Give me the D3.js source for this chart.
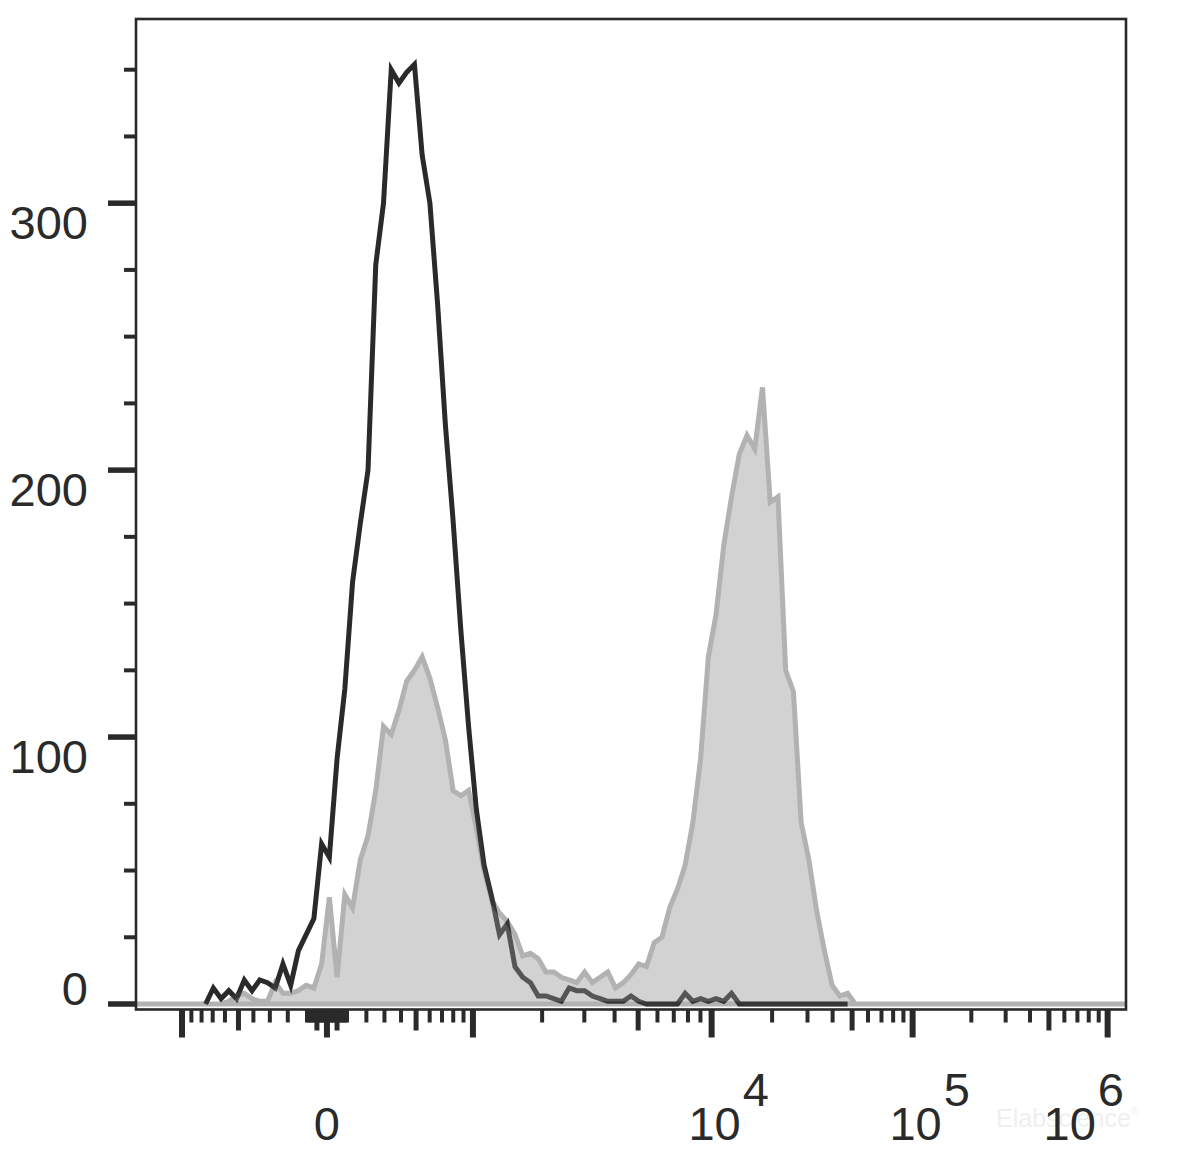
<!DOCTYPE html>
<html><head><meta charset="utf-8">
<script src="https://cdn.jsdelivr.net/npm/d3@7"></script>
<style>
body{margin:0;background:#fff}
svg{display:block}
text{font-family:"Liberation Sans",Arial,sans-serif}
</style>
</head><body>
<svg id="c" width="1180" height="1159"></svg>
<script>
// ---------------- data (histogram counts per display channel bin) ----------------
const binStart = 72;   // first bin (display channel)
const binStep = 8;     // channels per bin
const channelMax = 1024;

// black outline histogram (control)
const controlCounts = [
  0, 6, 2, 5, 2, 9, 5, 9, 8, 6,
  15, 7, 20, 26, 32, 60, 55, 92, 118, 158,
  180, 200, 277, 300, 350, 345, 349, 352, 318, 300,
  262, 217, 181, 140, 104, 73, 52, 40, 26, 30,
  14, 10, 8, 3, 3, 2, 1, 6, 5, 5,
  3, 2, 1, 1, 1, 3, 1, 0, 0, 0,
  0, 0, 4, 1, 2, 1, 2, 1, 4, 0,
  0, 0, 0, 0, 0, 0, 0, 0, 0, 0,
  0, 0, 0, 0
];

// grey filled histogram (stained sample)
const stainedCounts = [
  0, 0, 0, 1, 3, 4, 2, 1, 1, 8,
  4, 4, 5, 7, 6, 15, 40, 10, 41, 36,
  54, 63, 80, 104, 101, 110, 121, 125, 130, 122,
  111, 99, 80, 78, 80, 66, 50, 39, 34, 31,
  26, 18, 19, 17, 12, 12, 10, 9, 8, 12,
  8, 10, 12, 6, 8, 11, 15, 14, 23, 25,
  36, 43, 52, 68, 92, 130, 146, 172, 190, 206,
  213, 208, 231, 188, 190, 125, 117, 68, 54, 35,
  20, 7, 3, 4, 0
];

// axes
const yMax = 369;
const yTickStep = 25;
const yLabelValues = [0, 100, 200, 300];

// biexponential display: fluorescence value -> display channel anchors
const xAnchorValues = [-1000, 0, 1000, 1e4, 1e5, 1e6];
const xAnchorChannels = [47.6, 197.5, 348.5, 595.4, 803.3, 1005];
const xMajorValues = [-1000, 0, 1000, 1e4, 1e5, 1e6];
const xMediumValues = [-500, -50, 50, 500, 5000, 5e4, 5e5];
const xLabels = [
  {value: 0, base: "0", exp: ""},
  {value: 1e4, base: "10", exp: "4"},
  {value: 1e5, base: "10", exp: "5"},
  {value: 1e6, base: "10", exp: "6"}
];

// ---------------- layout ----------------
const plot = {left: 136, right: 1126, top: 19, zeroY: 1004, bottom: 1009.5};
const ink = "#2a2a2a";

const svg = d3.select("#c");

const x = d3.scaleLinear().domain([0, channelMax]).range([plot.left, plot.right]);
const y = d3.scaleLinear().domain([0, yMax]).range([plot.zeroY, plot.top]);

const asinhT = v => Math.asinh(v / 500);
const chanOf = d3.scaleLinear().domain(xAnchorValues.map(asinhT)).range(xAnchorChannels);
const xv = v => x(chanOf(asinhT(v)));

// ---------------- histograms ----------------
const controlPts = controlCounts.map((v, i) => ({c: binStart + i * binStep, v}));
// empty channels outside the listed bins are zero
const stainedPts = [{c: 0, v: 0}]
  .concat(stainedCounts.map((v, i) => ({c: binStart + i * binStep, v})))
  .concat([{c: channelMax, v: 0}]);

svg.append("path")
  .datum(controlPts)
  .attr("d", d3.line().x(d => x(d.c)).y(d => y(d.v)))
  .attr("fill", "none")
  .attr("stroke", ink)
  .attr("stroke-width", 5)
  .attr("stroke-linejoin", "miter")
  .attr("stroke-miterlimit", 4);

const gGrey = svg.append("g").attr("opacity", 0.41);
gGrey.append("path")
  .datum(stainedPts)
  .attr("d", d3.area().x(d => x(d.c)).y0(y(0)).y1(d => y(d.v)))
  .attr("fill", "#939393")
  .attr("stroke", "#474747")
  .attr("stroke-width", 5)
  .attr("stroke-linejoin", "miter")
  .attr("stroke-miterlimit", 4);

// ---------------- frame ----------------
svg.append("rect")
  .attr("x", plot.left).attr("y", plot.top)
  .attr("width", plot.right - plot.left)
  .attr("height", plot.bottom - plot.top)
  .attr("fill", "none").attr("stroke", ink).attr("stroke-width", 2.6);

// ---------------- y axis ----------------
const yTicks = d3.range(0, yMax + 0.001, yTickStep);
svg.append("g").selectAll("line").data(yTicks).join("line")
  .attr("x1", d => d % 100 === 0 ? plot.left - 28 : plot.left - 12)
  .attr("x2", plot.left)
  .attr("y1", d => y(d)).attr("y2", d => y(d))
  .attr("stroke", ink)
  .attr("stroke-width", d => d % 100 === 0 ? 5.5 : 4);

svg.append("g").selectAll("text").data(yLabelValues).join("text")
  .attr("x", 88)
  .attr("y", d => d === 0 ? y(d) + 1 : y(d) + 36)
  .attr("text-anchor", "end")
  .attr("font-size", 47)
  .attr("fill", ink)
  .text(d => d);

// ---------------- x axis ----------------
const xTickVals = [];
[-1, 1].forEach(s => {
  for (let k = 1; k <= 9; k++) { xTickVals.push(s * 10 * k); xTickVals.push(s * 100 * k); }
});
for (let k = 2; k <= 9; k++) { xTickVals.push(1000 * k, 1e4 * k, 1e5 * k); }
xMajorValues.forEach(v => xTickVals.push(v));
const tickKind = v => xMajorValues.includes(v) ? 2 : (xMediumValues.includes(v) ? 1 : 0);
const tickLen = [13, 21, 28];
const tickW = [4, 5, 6];
const uniqTicks = Array.from(new Set(xTickVals)).sort((a, b) => tickKind(a) - tickKind(b));
svg.append("g").selectAll("line").data(uniqTicks).join("line")
  .attr("x1", d => xv(d)).attr("x2", d => xv(d))
  .attr("y1", plot.bottom).attr("y2", d => plot.bottom + tickLen[tickKind(d)])
  .attr("stroke", ink)
  .attr("stroke-width", d => tickW[tickKind(d)]);

const labG = svg.append("g");
xLabels.forEach(l => {
  const g = labG.append("g");
  const t = g.append("text")
    .attr("y", 1140).attr("font-size", 47).attr("fill", ink)
    .text(l.base);
  const bw = t.node().getComputedTextLength();
  const cx = xv(l.value) + (l.exp ? 3 : 0);
  t.attr("x", cx - bw / 2);
  if (l.exp) {
    const e = g.append("text")
      .attr("x", cx + bw / 2 + 2).attr("y", 1106)
      .attr("font-size", 47).attr("fill", ink).text(l.exp);
    const right = cx + bw / 2 + 2 + e.node().getComputedTextLength();
    const limit = plot.right - 2;
    if (right > limit) g.attr("transform", `translate(${limit - right},0)`);
  }
});

// faint watermark (sits behind the last tick label, as in the source image)
const wm = svg.insert("text", ":first-child")
  .attr("x", 996).attr("y", 1127)
  .attr("font-size", 25).attr("fill", "#efefef")
  .text("Elabscience");
wm.append("tspan").attr("font-size", 10).attr("dy", -12).text("®");
</script>
</body></html>
